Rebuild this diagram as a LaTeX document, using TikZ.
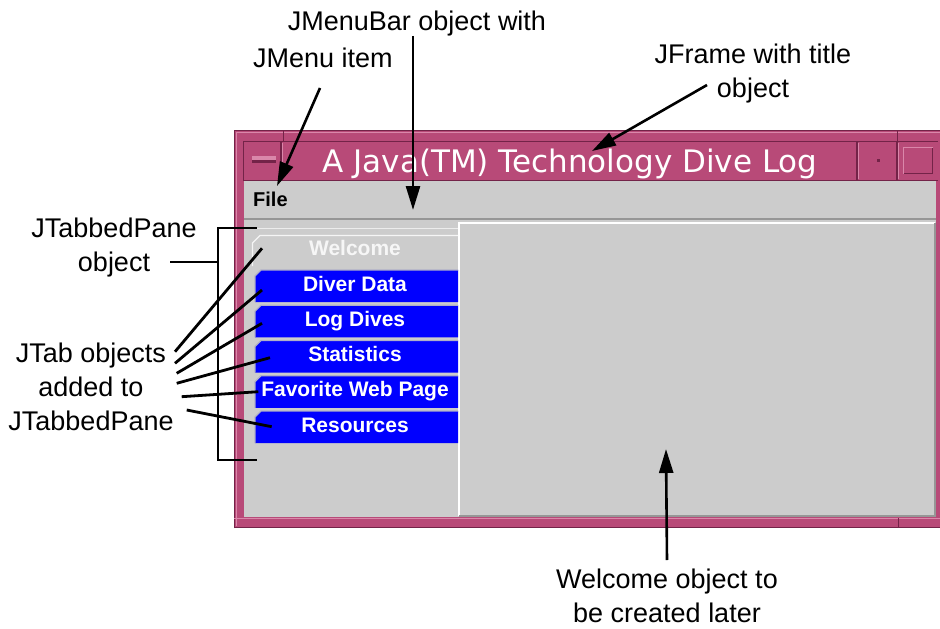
\documentclass[tikz,border=0pt]{standalone}
\usepackage{fontspec}
\setmainfont{Liberation Sans}
\newfontfamily\titlefont{DejaVu Sans}
\usetikzlibrary{arrows.meta,calc}
\definecolor{pinkframe}{RGB}{184,74,120}
\definecolor{pinkdark}{RGB}{115,35,72}
\definecolor{pinklight}{RGB}{218,135,170}
\definecolor{panelgray}{RGB}{204,204,204}
\definecolor{edgegray}{RGB}{150,150,150}
\definecolor{tabblue}{RGB}{0,0,255}
\definecolor{tabedge}{RGB}{175,175,200}
\begin{document}
\begin{tikzpicture}[x=1pt,y=-1pt,
  lbl/.style={font=\fontsize{27}{34}\selectfont, inner sep=0pt, align=center, text=black},
  arr/.style={line width=2.6pt, -{Triangle[length=24pt,width=14pt]}},
  ptr/.style={line width=2.8pt},
  tabtxt/.style={font=\bfseries\fontsize{21}{21}\selectfont, text=white, inner sep=0pt, anchor=base},
  tabshape/.style={fill=tabblue},
  tabrim/.style={draw=tabedge, line width=1.4pt},
]
\useasboundingbox (0,0) rectangle (940,629);
\fill[white] (0,0) rectangle (940,629);

% ---------- window frame ----------
\fill[pinkframe] (234,130) rectangle (940,528);
\draw[pinkdark, line width=1.2pt] (234.6,528) -- (234.6,130.6) -- (940,130.6);
\draw[pinklight, line width=1pt] (236.8,526) -- (236.8,132.8) -- (940,132.8);
\draw[pinkdark, line width=1.4pt] (234,527.3) -- (940,527.3);
\draw[pinklight, line width=1pt] (234,518.5) -- (940,518.5);
% corner ticks
\draw[pinkdark, line width=1pt] (283,131) -- (283,141);
\draw[pinkdark, line width=1pt] (897,131) -- (897,141);
\draw[pinkdark, line width=1pt] (898,518) -- (898,527);

% title bar
\fill[pinkframe] (244,141) rectangle (938,181);
\draw[pinkdark, line width=1.2pt] (243.6,181) -- (243.6,141.6) -- (938,141.6);
\draw[pinkdark, line width=1.2pt] (244,180.4) -- (938,180.4);
\foreach \sx in {281,857,897}{
  \draw[pinkdark, line width=1.2pt] (\sx,142) -- (\sx,180);
  \draw[pinklight, line width=0.9pt] (\sx+1.6,143) -- (\sx+1.6,179);
}
% minimize bar
\fill[pinklight] (252,156) rectangle (276,159.5);
\fill[pinkdark] (252,159.5) rectangle (276,162.5);
% small button dot
\fill[pinkdark] (876.5,158.5) rectangle (880,162);
% square button
\fill[pinkframe] (903,147) rectangle (933,174);
\draw[pinklight, line width=1.2pt] (903.6,174) -- (903.6,147.6) -- (933,147.6);
\draw[pinkdark, line width=1.2pt] (903.6,173.4) -- (932.4,173.4) -- (932.4,147.6);

\node[font=\titlefont\fontsize{31}{31}\selectfont, text=white, inner sep=0pt, anchor=base]
  (title) at (570,172) {A Java(TM) Technology Dive Log};

% ---------- menu bar and content ----------
\fill[panelgray] (244,181) rectangle (936,517);
\draw[edgegray, line width=1.2pt] (244,219) -- (936,219);
\node[font=\bfseries\fontsize{20}{20}\selectfont, inner sep=0pt, anchor=base west]
  (file) at (253,206) {File};

% tab pane top edge
\draw[white!85!gray, line width=1.4pt] (244,228.5) -- (458,228.5);
% right panel
\draw[white, line width=1.5pt] (459,516) -- (459,223) -- (935,223);
\draw[edgegray, line width=1.5pt] (935,223) -- (935,516) -- (459,516);

% Welcome tab
\draw[white!92!gray, line width=1.4pt] (252.5,266) -- (252.5,243) -- (260,235.5) -- (458,235.5);
\node[tabtxt, text=white!93!gray] (tabWelcome) at (355,255) {Welcome};

% blue tabs
\foreach \ya/\nm/\tx in {270/tabDiver/Diver Data, 305.25/tabLog/Log Dives, 340.5/tabStats/Statistics, 375.75/tabFav/Favorite Web Page, 411/tabRes/Resources}{
  \fill[tabshape] (255,\ya+32) -- (255,\ya+6) -- (261,\ya) -- (458,\ya) -- (458,\ya+32) -- cycle;
  \draw[tabrim] (255,\ya+32) -- (255,\ya+6) -- (261,\ya) -- (458,\ya);
  \node[tabtxt] (\nm) at (355,\ya+21) {\tx};
}

% ---------- labels ----------
\node[lbl, anchor=base] (lblMenuBar) at (417,30) {JMenuBar object with};
\node[lbl, anchor=base] (lblMenu) at (323,67) {JMenu item};
\node[lbl, anchor=north] (lblFrame) at (753,43.5) {JFrame with title\\object};
\node[lbl, anchor=north] (lblPane) at (114,217.5) {JTabbedPane\\object};
\node[lbl, anchor=north] (lblTabs) at (91,342.5) {JTab objects\\added to\\JTabbedPane};
\node[lbl, anchor=north] (lblWelcome) at (667,569) {Welcome object to\\be created later};

% ---------- connector end points ----------
\coordinate (mbTip) at (413,210);
\coordinate (miStart) at (320,88);
\coordinate (miTip) at (277,186);
\coordinate (frStart) at (707,85);
\coordinate (frTip) at (592,151);
\coordinate (wcStart) at (667,560);
\coordinate (wcTip) at (666,449);

\draw[arr] (lblMenuBar.south -| mbTip) -- (mbTip);
\draw[arr] (miStart) -- (miTip);
\draw[arr] (frStart) -- (frTip);
\draw[arr] (wcStart) -- (wcTip);

% bracket for JTabbedPane
\coordinate (brTop) at (257,228);
\coordinate (brBot) at (257,460);
\coordinate (brMid) at (218,262);
\coordinate (paneStart) at (170,262);
\draw[ptr] (brTop) -- (218,228) -- (218,460) -- (brBot);
\draw[ptr] (paneStart) -- (brMid);

% JTab pointers
\coordinate (t1s) at (175,351.7);  \coordinate (t1e) at (262,248.3);
\coordinate (t2s) at (175,363.3);  \coordinate (t2e) at (262,290);
\coordinate (t3s) at (176.7,373.3);\coordinate (t3e) at (262,323.3);
\coordinate (t4s) at (176.7,383.3);\coordinate (t4e) at (270,357.7);
\coordinate (t5s) at (181.7,396.7);\coordinate (t5e) at (258.3,391.7);
\coordinate (t6s) at (186.7,410);  \coordinate (t6e) at (271.7,426.7);
\foreach \i in {1,...,6}{ \draw[ptr] (t\i s) -- (t\i e); }
\end{tikzpicture}
\end{document}
